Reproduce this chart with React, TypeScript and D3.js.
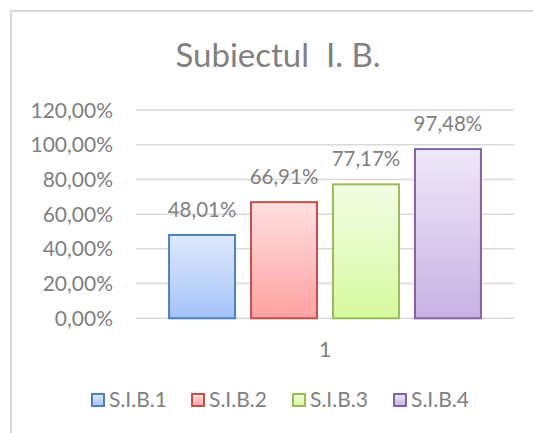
import React from "react";
import * as d3 from "d3";

const categories = ["1"];
const seriesNames = ["S.I.B.1", "S.I.B.2", "S.I.B.3", "S.I.B.4"];
const values = [0.4801, 0.6691, 0.7717, 0.9748];
const yTicks = [0, 0.2, 0.4, 0.6, 0.8, 1.0, 1.2];

const strokes = ["#4f81bd", "#c0504d", "#9bbb59", "#8064a2"];
const topFill = ["#dfe9fb", "#ffe0e0", "#f3fde6", "#eee8f7"];
const bottomFill = ["#a5c3f9", "#ffa1a1", "#d5f99d", "#c8b2e3"];

const W = 533, H = 433;
const font = "Lato, 'Open Sans', sans-serif";
const textColor = "#808080";

const fmt = (v: number, d: number) => (v * 100).toFixed(d).replace(".", ",") + "%";

export default function App() {
  const margin = { top: 110, right: 19, bottom: 115, left: 136 };

  const y = d3.scaleLinear().domain([0, 1.2]).range([H - margin.bottom + 0.3, margin.top]);
  const x0 = d3.scaleBand().domain(categories).range([margin.left, W - margin.right]).paddingInner(0).paddingOuter(0.106);
  const x1 = d3.scaleBand().domain(seriesNames).range([0, x0.bandwidth()]).paddingInner(0.195).paddingOuter(0);

  const legendX = [92, 192, 293, 394];

  return (
    <div style={{ position: "absolute", left: 0, top: 0 }}>
      <svg width={W} height={H} style={{ display: "block", background: "#fff" }}>
        <defs>
          {seriesNames.map((s, i) => (
            <linearGradient key={s} id={"g" + i} x1="0" y1="0" x2="0" y2="1">
              <stop offset="0%" stopColor={topFill[i]} />
              <stop offset="100%" stopColor={bottomFill[i]} />
            </linearGradient>
          ))}
        </defs>
        {/* chart border */}
        <path d={`M11,${H} V11 H${W}`} fill="none" stroke="#d9d9d9" strokeWidth={2} />

        <text x={278} y={67} textAnchor="middle" fill={textColor} fontFamily={font} fontSize={33} xmlSpace="preserve">
          Subiectul  I. B.
        </text>

        {/* gridlines + y labels */}
        {yTicks.map((t) => (
          <g key={t}>
            <line x1={margin.left} x2={W - margin.right} y1={y(t)} y2={y(t)} stroke="#d9d9d9" strokeWidth={1.5} />
            <text x={113} y={y(t)} dy="0.36em" textAnchor="end" fill={textColor} fontFamily={font} fontSize={21}>
              {fmt(t, 2)}
            </text>
          </g>
        ))}

        {/* bars */}
        {categories.map((c) => (
          <g key={c} transform={`translate(${x0(c)},0)`}>
            {seriesNames.map((s, i) => {
              const bx = x1(s) as number;
              const bw = x1.bandwidth();
              return (
                <g key={s}>
                  <rect x={bx} y={y(values[i])} width={bw} height={y(0) - y(values[i])}
                    fill={`url(#g${i})`} stroke={strokes[i]} strokeWidth={2} />
                  <text x={bx + bw / 2} y={y(values[i]) - 18} textAnchor="middle" fill={textColor}
                    fontFamily={font} fontSize={20.5}>
                    {fmt(values[i], 2)}
                  </text>
                </g>
              );
            })}
            <text x={x0.bandwidth() / 2} y={357} textAnchor="middle" fill={textColor} fontFamily={font} fontSize={21}>
              {c}
            </text>
          </g>
        ))}

        {/* legend */}
        {seriesNames.map((s, i) => (
          <g key={s} transform={`translate(${legendX[i]},394)`}>
            <rect x={0} y={0} width={12} height={12} fill={`url(#g${i})`} stroke={strokes[i]} strokeWidth={2} />
            <text x={17} y={13} fill={textColor} fontFamily={font} fontSize={21}>{s}</text>
          </g>
        ))}
      </svg>
    </div>
  );
}
